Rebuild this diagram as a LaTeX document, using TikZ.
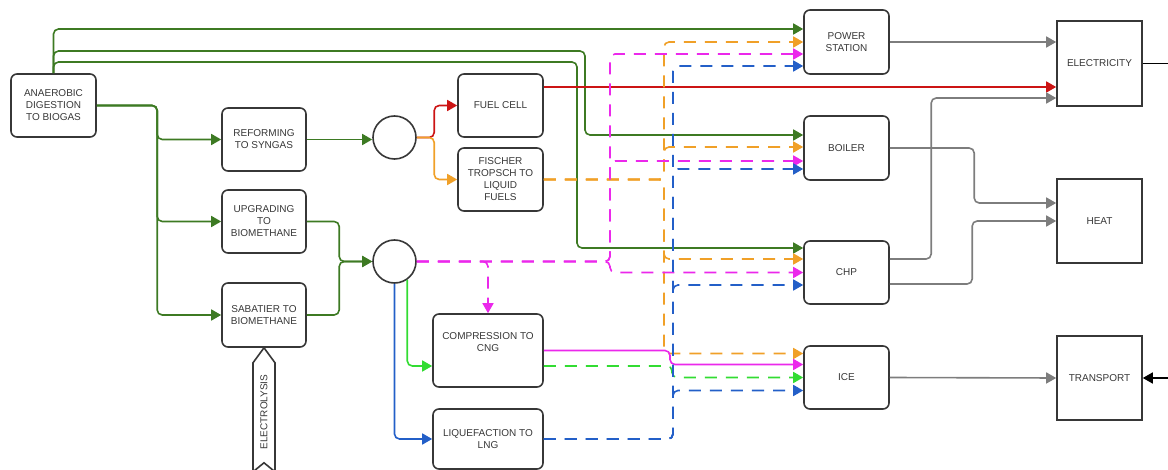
\documentclass[tikz,border=0pt]{standalone}
\usepackage{fontspec}
\setmainfont{Liberation Sans}
\usetikzlibrary{calc,arrows.meta}

\definecolor{boxgray}{RGB}{55,55,55}
\definecolor{txtgray}{RGB}{55,55,55}
\definecolor{biogreen}{RGB}{61,122,35}
\definecolor{fcred}{RGB}{204,20,20}
\definecolor{ftorange}{RGB}{240,160,40}
\definecolor{gasmagenta}{RGB}{235,40,235}
\definecolor{cnggreen}{RGB}{50,220,50}
\definecolor{lngblue}{RGB}{35,95,200}
\definecolor{outgray}{RGB}{125,125,125}

\tikzset{
	procbox/.style={draw=boxgray, line width=1.6pt, rounded corners=6pt, minimum width=85pt, minimum height=63pt, align=center, text=txtgray, font=\fontsize{10}{12}\selectfont, inner sep=2pt},
	sinkbox/.style={procbox, sharp corners, minimum height=85pt},
	junc/.style={circle, draw=boxgray, line width=1.6pt, minimum size=43pt, inner sep=0pt},
	flow/.style={line width=1.6pt, rounded corners=5pt, -{Triangle[length=10pt,width=11pt]}},
	dashflow/.style={flow, dash pattern=on 12pt off 9pt},
}

\begin{document}
\begin{tikzpicture}[x=1pt, y=-1pt]
		%%%%% START %%%%%
		\useasboundingbox (0,0) rectangle (1168,470);
		
		\node[procbox] (ad) at (53.5,105.5) {ANAEROBIC\\DIGESTION\\TO BIOGAS};
		\node[procbox, minimum width=84pt] (ref) at (264,139.5) {REFORMING\\TO SYNGAS};
		\node[procbox, minimum width=84pt] (upg) at (264,221.5) {UPGRADING\\TO\\BIOMETHANE};
		\node[procbox, minimum width=84pt, minimum height=64pt] (sab) at (264,315) {SABATIER TO\\BIOMETHANE};
		\node[junc] (j1) at (394.5,137.5) {};
		\node[junc] (j2) at (394.5,261.5) {};
		\node[procbox] (fc) at (500.5,105.5) {FUEL CELL};
		\node[procbox] (ft) at (500.5,179.5) {FISCHER\\TROPSCH TO\\LIQUID\\FUELS};
		\node[procbox, minimum width=110pt, minimum height=73pt] (cng) at (488,350.5) {COMPRESSION TO\\CNG\\[4pt]};
		\node[procbox, minimum width=110pt, minimum height=60pt] (lng) at (488,439) {LIQUEFACTION TO\\LNG};
		
		\node[procbox, minimum height=64pt] (ps) at (846.5,42) {POWER\\STATION};
		\node[procbox, minimum height=64pt] (boil) at (846.5,148) {BOILER};
		\node[procbox] (chp) at (846.5,272.5) {CHP};
		\node[procbox] (ice) at (846.5,377.5) {ICE};
		\node[sinkbox] (elec) at (1099.5,63.5) {ELECTRICITY};
		\node[sinkbox, minimum height=84pt] (heat) at (1099.5,221) {HEAT};
		\node[sinkbox, minimum height=84pt] (trans) at (1099.5,378) {TRANSPORT};
		
		% electrolysis feed
		\draw[line width=1.6pt, boxgray] (sab.south) -- ++(11,15) -- ++(0,109) -- ++(-11,-9) -- ++(-11,9) -- ++(0,-109) -- cycle;
		\node[rotate=90, text=txtgray, font=\fontsize{10}{12}\selectfont] (ely) at (264,412) {ELECTROLYSIS};
		
		% ports
		\coordinate (ps-g) at ($(ps.west)+(0,-13)$);
		\coordinate (ps-o) at (ps.west);
		\coordinate (ps-m) at ($(ps.west)+(0,12)$);
		\coordinate (ps-b) at ($(ps.west)+(0,24)$);
		\coordinate (boil-g) at ($(boil.west)+(0,-13)$);
		\coordinate (boil-o) at ($(boil.west)+(0,-1)$);
		\coordinate (boil-m) at ($(boil.west)+(0,13)$);
		\coordinate (boil-b) at ($(boil.west)+(0,21)$);
		\coordinate (chp-g) at ($(chp.west)+(0,-24.5)$);
		\coordinate (chp-o) at ($(chp.west)+(0,-13.5)$);
		\coordinate (chp-m) at (chp.west);
		\coordinate (chp-b) at ($(chp.west)+(0,12.5)$);
		\coordinate (ice-o) at ($(ice.west)+(0,-24)$);
		\coordinate (ice-m) at ($(ice.west)+(0,-13)$);
		\coordinate (ice-g) at (ice.west);
		\coordinate (ice-b) at ($(ice.west)+(0,13)$);
		\coordinate (cng-in) at ($(cng.west)+(0,15.5)$);
		\coordinate (cng-out) at ($(cng.east)+(0,15.5)$);
		\coordinate (elec-r) at ($(elec.west)+(0,23.5)$);
		\coordinate (elec-c) at ($(elec.west)+(0,34.5)$);
		\coordinate (heat-a) at ($(heat.west)+(0,-18)$);
		\coordinate (obus) at (664,0);
		\coordinate (mbus) at (610,0);
		\coordinate (sbus) at (670,0);
		\coordinate (gbus) at (672,0);
		\coordinate (bbus) at (673,0);
		\coordinate (eout) at (1168,63.5);
		\coordinate (tin) at (1168,378);
		
		% biogas
		\draw[flow, biogreen] (ad.north) |- (ps-g);
		\draw[flow, biogreen] (ad.north) |- (585,51) |- (boil-g);
		\draw[flow, biogreen] (ad.north) |- (577,62) |- (chp-g);
		\draw[flow, biogreen] (ad.east) -| ($(ref.west)+(-64,0)$) -- (ref.west);
		\draw[flow, biogreen] (ad.east) -| ($(upg.west)+(-64,0)$) -- (upg.west);
		\draw[flow, biogreen] (ad.east) -| ($(sab.west)+(-64,0)$) -- (sab.west);
		\draw[flow, biogreen] (ref.east) -- (ref.east -| j1.west);
		\draw[flow, biogreen] (upg.east) -| ($(j2.west)+(-33,0)$) -- (j2.west);
		\draw[flow, biogreen] (sab.east) -| ($(j2.west)+(-33,0)$) -- (j2.west);
		
		% syngas
		\draw[flow, fcred] (j1.east) -| ($(fc.west)+(-23,0)$) -- (fc.west);
		\draw[flow, fcred] ($(fc.east)+(0,-18.5)$) -- (elec-r);
		\draw[flow, ftorange] (j1.east) -| ($(ft.west)+(-23,0)$) -- (ft.west);
		\draw[dashflow, ftorange] (ft.east) -| (obus |- ps-o) -- (ps-o);
		\draw[dashflow, ftorange] (ft.east) -| (obus |- boil-o) -- (boil-o);
		\draw[dashflow, ftorange] (ft.east) -| (obus |- chp-o) -- (chp-o);
		\draw[dashflow, ftorange] (ft.east) -| (obus |- ice-o) -- (ice-o);
		
		% biomethane
		\draw[dashflow, gasmagenta] (j2.east) -| (cng.north);
		\draw[dashflow, gasmagenta] (j2.east) -| (mbus |- ps-m) -- (ps-m);
		\draw[dashflow, gasmagenta] (j2.east) -| (mbus |- boil-m) -- (boil-m);
		\draw[dashflow, gasmagenta] (j2.east) -| (mbus |- chp-m) -- (chp-m);
		\draw[flow, gasmagenta] (cng.east) -| (sbus |- ice-m) -- (ice-m);
		\draw[flow, cnggreen] (j2.-55) |- (cng-in);
		\draw[dashflow, cnggreen] (cng-out) -| (gbus |- ice-g) -- (ice-g);
		\draw[flow, lngblue] (j2.south) |- (lng.west);
		\draw[dashflow, lngblue] (lng.east) -| (bbus |- ps-b) -- (ps-b);
		\draw[dashflow, lngblue] (lng.east) -| (bbus |- boil-b) -- (boil-b);
		\draw[dashflow, lngblue] (lng.east) -| (bbus |- chp-b) -- (chp-b);
		\draw[dashflow, lngblue] (lng.east) -| (bbus |- ice-b) -- (ice-b);
		
		% outputs
		\draw[flow, outgray] (ps.east) -- (ps.east -| elec.west);
		\draw[flow, outgray] (boil.east) -| ($(heat-a)+(-82,0)$) -- (heat-a);
		\draw[flow, outgray] ($(chp.east)+(0,-13.5)$) -| ($(elec-c)+(-125,0)$) -- (elec-c);
		\draw[flow, outgray] ($(chp.east)+(0,11.5)$) -| ($(heat.west)+(-84,0)$) -- (heat.west);
		\draw[flow, outgray] (ice.east) -- (trans.west);
		\draw[line width=1.6pt, black] (elec.east) -- (eout);
		\draw[flow, black] (tin) -- (trans.east);
		
		%%%%% END %%%%%
\end{tikzpicture}
\end{document}
